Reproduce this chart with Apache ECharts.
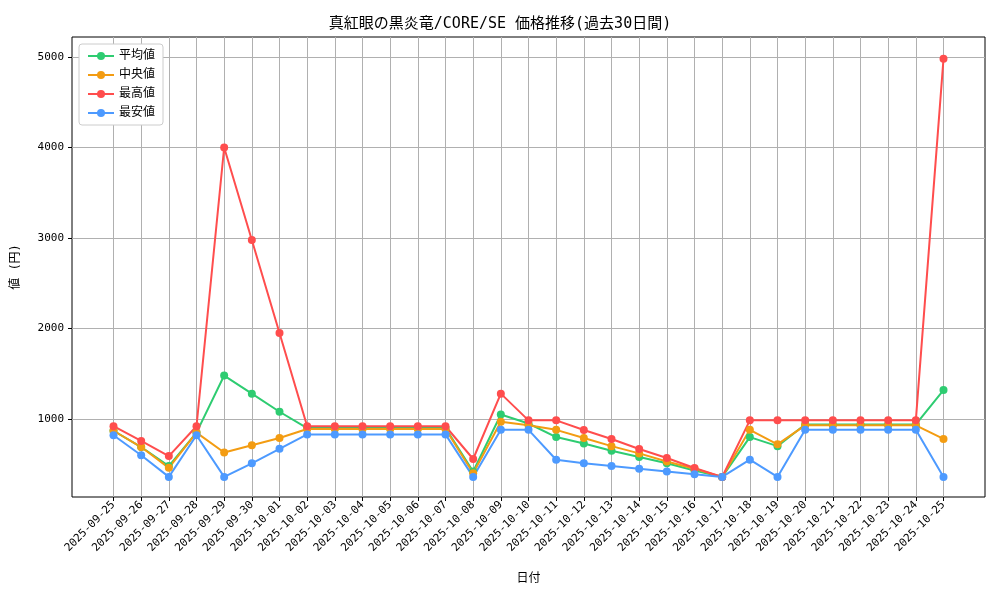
<!DOCTYPE html>
<html><head><meta charset="utf-8">
<script src="https://cdn.jsdelivr.net/npm/echarts@6/dist/echarts.min.js"></script>
<style>html,body{margin:0;background:#fff}#c{width:1000px;height:600px}</style>
</head><body><div id="c"></div>
<script>
const dates = ['2025-09-25','2025-09-26','2025-09-27','2025-09-28','2025-09-29','2025-09-30','2025-10-01','2025-10-02','2025-10-03','2025-10-04','2025-10-05','2025-10-06','2025-10-07','2025-10-08','2025-10-09','2025-10-10','2025-10-11','2025-10-12','2025-10-13','2025-10-14','2025-10-15','2025-10-16','2025-10-17','2025-10-18','2025-10-19','2025-10-20','2025-10-21','2025-10-22','2025-10-23','2025-10-24','2025-10-25'];
const avgVals = [870,690,480,850,1480,1280,1080,900,900,900,900,900,900,420,1050,950,800,730,650,580,510,430,360,800,700,940,940,940,940,940,1320];
const medVals = [870,690,460,850,630,710,790,890,890,890,890,890,890,400,970,930,880,790,700,620,530,450,360,880,720,930,930,930,930,930,780];
const maxVals = [920,757,590,920,4000,2978,1950,920,920,920,920,920,920,558,1280,985,985,878,779,668,569,459,359,985,985,985,985,985,985,985,4980];
const minVals = [820,600,360,820,360,510,670,830,830,830,830,830,830,360,880,880,550,510,480,450,420,390,360,550,360,880,880,880,880,880,360];
const yTicks = [1000,2000,3000,4000,5000];

const font = '"DejaVu Sans Mono", "Noto Sans CJK JP", monospace';
const chart = echarts.init(document.getElementById('c'));
const mk = (name, vals, color) => ({
  name, type: 'line', data: vals.map((v, i) => [i, v]),
  symbol: 'circle', symbolSize: 8, color,
  lineStyle: { width: 2, color }, itemStyle: { color }
});
chart.setOption({
  animation: false,
  textStyle: { fontFamily: font },
  title: { text: '真紅眼の黒炎竜/CORE/SE 価格推移(過去30日間)', left: 'center', top: 12,
    textStyle: { fontSize: 15, fontWeight: 'normal', color: '#000', fontFamily: font } },
  legend: { orient: 'vertical', left: 79, top: 44, itemWidth: 26, itemHeight: 10, itemGap: 7,
    backgroundColor: '#fff', borderColor: '#ccc', borderWidth: 1, borderRadius: 3, padding: [6, 8],
    textStyle: { fontSize: 12, color: '#000', fontFamily: font } },
  grid: { left: 72, right: 15, top: 37, bottom: 103, show: true, borderColor: '#000', borderWidth: 1 },
  xAxis: {
    type: 'value', min: -1.5, max: 31.5, name: '日付', nameLocation: 'middle', nameGap: 76,
    nameTextStyle: { fontSize: 12, color: '#000' },
    axisLine: { show: false },
    axisTick: { show: true, inside: false, length: 4, customValues: dates.map((d, i) => i), lineStyle: { color: '#000' } },
    axisLabel: { customValues: dates.map((d, i) => i), formatter: v => dates[v], rotate: 45,
      fontSize: 11, color: '#000', margin: 6 },
    splitLine: { show: true, customValues: dates.map((d, i) => i), lineStyle: { color: '#b0b0b0' } }
  },
  yAxis: {
    type: 'value', min: 138, max: 5221, name: '値 (円)', nameLocation: 'middle', nameGap: 50,
    nameTextStyle: { fontSize: 12, color: '#000' },
    axisLine: { show: false, onZero: false },
    axisTick: { show: true, inside: false, length: 4, customValues: yTicks, lineStyle: { color: '#000' } },
    axisLabel: { customValues: yTicks, formatter: v => String(v), fontSize: 11, color: '#000' },
    splitLine: { show: true, customValues: yTicks, lineStyle: { color: '#b0b0b0' } }
  },
  series: [
    mk('平均値', avgVals, '#2ecc71'),
    mk('中央値', medVals, '#f39c12'),
    mk('最高値', maxVals, '#ff4d4d'),
    mk('最安値', minVals, '#4d9aff')
  ]
});
</script></body></html>
